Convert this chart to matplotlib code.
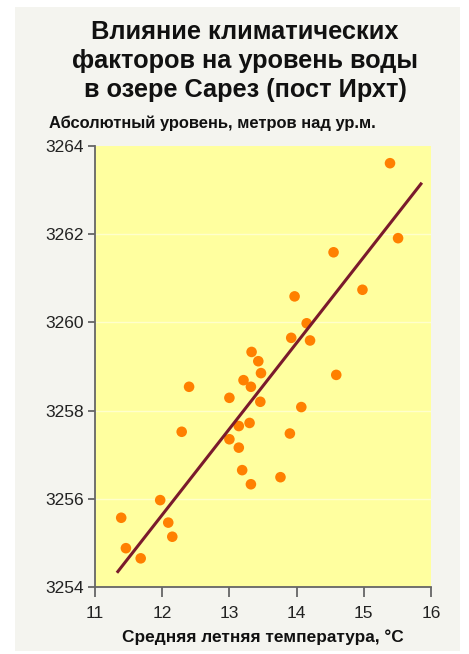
import matplotlib.pyplot as plt
from matplotlib.patches import Rectangle

# данные
temp = [11.39, 11.46, 11.68, 11.97, 12.09, 12.15, 12.29, 12.40, 13.00, 13.00,
        13.14, 13.14, 13.19, 13.21, 13.32, 13.33, 13.43, 13.47, 13.46, 13.30,
        13.32, 13.92, 14.20, 14.59, 14.07, 13.90, 13.76, 15.39, 15.51, 14.55,
        14.98, 13.97, 14.15]
level = [3255.57, 3254.88, 3254.65, 3255.97, 3255.46, 3255.14, 3257.52, 3258.54, 3258.29, 3257.35,
         3257.16, 3257.65, 3256.65, 3258.69, 3258.54, 3259.33, 3259.12, 3258.85, 3258.20, 3257.72,
         3256.33, 3259.65, 3259.59, 3258.81, 3258.08, 3257.48, 3256.49, 3263.61, 3261.91, 3261.59,
         3260.74, 3260.59, 3259.98]

trend_x = [11.34, 15.85]
trend_y = [3254.35, 3263.14]

xticks = [11, 12, 13, 14, 15, 16]
yticks = [3254, 3256, 3258, 3260, 3262, 3264]

title_lines = ['Влияние климатических', 'факторов на уровень воды', 'в озере Сарез (пост Ирхт)']

plt.rcParams['font.family'] = ['Liberation Sans', 'DejaVu Sans']

fig = plt.figure(figsize=(4.69, 6.54), dpi=100)
fig.patch.set_facecolor('white')
# серая подложка
fig.patches.append(Rectangle((15 / 469, 1 - 651 / 654), 445 / 469, 644 / 654,
                             transform=fig.transFigure, facecolor='#f4f4ef',
                             edgecolor='none', zorder=-5))

ax = fig.add_axes([95 / 469, 1 - 587 / 654, 336 / 469, 441 / 654])
ax.set_facecolor('#ffff9f')
ax.set_xlim(11, 16)
ax.set_ylim(3254, 3264)
ax.set_xticks(xticks)
ax.set_yticks(yticks)
for y in yticks[1:-1]:
    ax.axhline(y, color='#ffffcc', lw=1, zorder=1)

ax.scatter(temp, level, s=58, color='#ff8000', edgecolors='none', zorder=3)
ax.plot(trend_x, trend_y, color='#7a1a2c', lw=2.2, zorder=4)

for s in ['top', 'right']:
    ax.spines[s].set_visible(False)
for s in ['left', 'bottom']:
    ax.spines[s].set_color('#666666')
    ax.spines[s].set_linewidth(1.3)
ax.tick_params(axis='y', length=5, width=1.3, color='#666666', labelcolor='#222222',
               labelsize=12.5, pad=3)
ax.tick_params(axis='x', length=7, width=1.3, color='#666666', labelcolor='#222222',
               labelsize=12.5, pad=7)

# заголовок построчно
for i, line in enumerate(title_lines):
    fig.text(245 / 469, 1 - (39 + 29 * i) / 654, line,
             ha='center', va='baseline', fontsize=18.3, fontweight='bold', color='#111111')
fig.text(49 / 469, 1 - 128 / 654, 'Абсолютный уровень, метров над ур.м.',
         ha='left', va='baseline', fontsize=11.9, fontweight='bold', color='#111111')
fig.text(263 / 469, 1 - 642 / 654, 'Средняя летняя температура, °С',
         ha='center', va='baseline', fontsize=12.4, fontweight='bold', color='#111111')

plt.savefig('out.png', dpi=100)
